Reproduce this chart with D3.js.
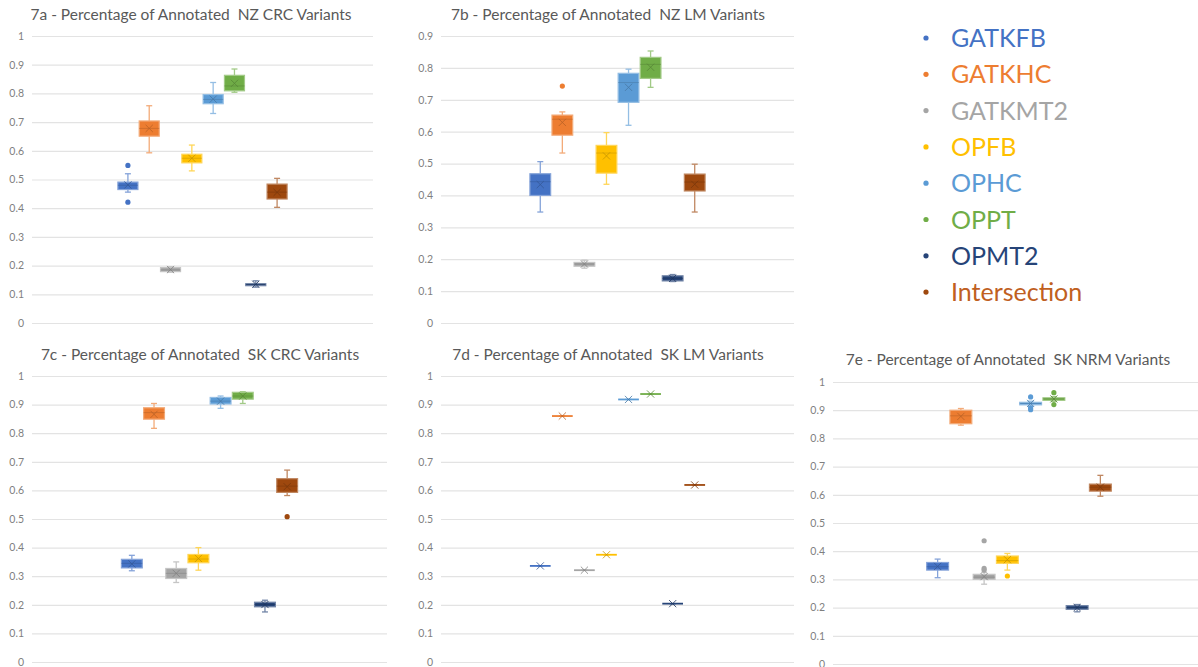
<!DOCTYPE html>
<html>
<head>
<meta charset="utf-8">
<script src="https://cdn.jsdelivr.net/npm/d3@7/dist/d3.min.js"></script>
<style>
  html, body { margin: 0; padding: 0; background: #ffffff; }
  svg { display: block; }
  text { font-family: Lato, "Open Sans", sans-serif; }
</style>
</head>
<body>
<svg id="fig" width="1198" height="667"></svg>
<script>
// Series shown in every panel, in plotting order
const seriesNames = ["GATKFB", "GATKHC", "GATKMT2", "OPFB", "OPHC", "OPPT", "OPMT2", "Intersection"];
const seriesColors = ["#4472C4", "#ED7D31", "#A5A5A5", "#FFC000", "#5B9BD5", "#70AD47", "#264478", "#9E480E"];
const legendTextColors = ["#4472C4", "#ED7D31", "#A5A5A5", "#FFC000", "#5B9BD5", "#70AD47", "#264478", "#C0601F"];

// Box statistics per series: [whisker low, Q1, median, Q3, whisker high, mean]
const nzCRC = [
  [0.456, 0.465, 0.480, 0.491, 0.520, 0.481],
  [0.593, 0.651, 0.678, 0.704, 0.757, 0.678],
  [0.177, 0.179, 0.185, 0.193, 0.196, 0.186],
  [0.530, 0.558, 0.574, 0.588, 0.620, 0.574],
  [0.730, 0.764, 0.779, 0.796, 0.838, 0.780],
  [0.804, 0.809, 0.826, 0.863, 0.885, 0.835],
  [0.125, 0.130, 0.134, 0.137, 0.147, 0.135],
  [0.403, 0.432, 0.456, 0.484, 0.504, 0.455]
];
const nzCRCOutliers = [[0.549, 0.421], [], [], [], [], [], [], []];

const nzLM = [
  [0.348, 0.400, 0.443, 0.468, 0.506, 0.434],
  [0.533, 0.589, 0.639, 0.652, 0.662, 0.629],
  [0.172, 0.178, 0.185, 0.190, 0.197, 0.185],
  [0.435, 0.470, 0.533, 0.557, 0.597, 0.524],
  [0.620, 0.692, 0.754, 0.783, 0.796, 0.739],
  [0.739, 0.767, 0.811, 0.833, 0.853, 0.802],
  [0.130, 0.132, 0.140, 0.148, 0.152, 0.140],
  [0.348, 0.414, 0.442, 0.467, 0.498, 0.435]
];
const nzLMOutliers = [[], [0.743], [], [], [], [], [], []];

const skCRC = [
  [0.319, 0.329, 0.345, 0.359, 0.373, 0.343],
  [0.817, 0.849, 0.872, 0.889, 0.904, 0.866],
  [0.278, 0.292, 0.310, 0.327, 0.350, 0.310],
  [0.321, 0.347, 0.360, 0.376, 0.400, 0.362],
  [0.887, 0.902, 0.912, 0.925, 0.930, 0.912],
  [0.904, 0.919, 0.930, 0.943, 0.945, 0.930],
  [0.175, 0.193, 0.201, 0.209, 0.216, 0.201],
  [0.582, 0.593, 0.615, 0.641, 0.671, 0.613]
];
const skCRCOutliers = [[], [], [], [], [], [], [], [0.508]];

// SK LM has a single value per series
const skLM = [0.336, 0.860, 0.321, 0.375, 0.918, 0.937, 0.204, 0.619];

const skNRM = [
  [0.306, 0.333, 0.345, 0.360, 0.372, 0.346],
  [0.847, 0.852, 0.880, 0.900, 0.906, 0.878],
  [0.283, 0.300, 0.308, 0.318, 0.325, 0.310],
  [0.333, 0.357, 0.367, 0.383, 0.392, 0.370],
  [0.914, 0.919, 0.924, 0.928, 0.932, 0.924],
  [0.931, 0.935, 0.940, 0.944, 0.948, 0.940],
  [0.185, 0.194, 0.200, 0.207, 0.211, 0.200],
  [0.595, 0.613, 0.627, 0.638, 0.669, 0.627]
];
const skNRMOutliers = [[], [], [0.437, 0.339, 0.333], [0.312], [0.947, 0.908, 0.902], [0.962, 0.920], [], []];

const ticksTo1 = [0, 0.1, 0.2, 0.3, 0.4, 0.5, 0.6, 0.7, 0.8, 0.9, 1];
const ticksTo09 = [0, 0.1, 0.2, 0.3, 0.4, 0.5, 0.6, 0.7, 0.8, 0.9];

const panelTitles = [
  "7a - Percentage of Annotated\u00A0 NZ CRC Variants",
  "7b - Percentage of Annotated\u00A0 NZ LM Variants",
  "7c - Percentage of Annotated\u00A0 SK CRC Variants",
  "7d - Percentage of Annotated\u00A0 SK LM Variants",
  "7e - Percentage of Annotated\u00A0 SK NRM Variants"
];

const skLMStats = skLM.map(v => [v, v, v, v, v, v]);

// Panel layout (pixel frame of each plot area)
const panels = [
  { title: panelTitles[0], stats: nzCRC, outliers: nzCRCOutliers, ticks: ticksTo1, max: 1,
    left: 32, right: 373, top: 36, bottom: 323, titleX: 191, titleY: 20 },
  { title: panelTitles[1], stats: nzLM, outliers: nzLMOutliers, ticks: ticksTo09, max: 0.9,
    left: 441, right: 794, top: 36, bottom: 323, titleX: 608, titleY: 20 },
  { title: panelTitles[2], stats: skCRC, outliers: skCRCOutliers, ticks: ticksTo1, max: 1,
    left: 32, right: 387, top: 376, bottom: 662, titleX: 200, titleY: 360 },
  { title: panelTitles[3], stats: skLMStats, outliers: seriesNames.map(() => []), ticks: ticksTo1, max: 1,
    left: 441, right: 794, top: 376, bottom: 662, titleX: 608, titleY: 360 },
  { title: panelTitles[4], stats: skNRM, outliers: skNRMOutliers, ticks: ticksTo1, max: 1,
    left: 833, right: 1205, top: 382, bottom: 664, titleX: 1008, titleY: 365 }
];

const svg = d3.select("#fig");

function tint(c, k) {
  const a = d3.rgb(c), w = d3.rgb("#ffffff");
  return d3.rgb(a.r + (w.r - a.r) * k, a.g + (w.g - a.g) * k, a.b + (w.b - a.b) * k).formatHex();
}

panels.forEach(p => {
  const g = svg.append("g");
  const y = d3.scaleLinear().domain([0, p.max]).range([p.bottom, p.top]);
  const w = p.right - p.left;
  const x = d3.scaleBand().domain(seriesNames)
    .range([p.left + w / 4, p.right - w / 4]).paddingInner(0.06).paddingOuter(0.03);
  const bw = x.bandwidth();

  // Title
  g.append("text")
    .attr("x", p.titleX).attr("y", p.titleY)
    .attr("text-anchor", "middle")
    .attr("font-size", 15.5).attr("fill", "#595959")
    .text(p.title);

  // Gridlines and value labels through a left axis
  const axis = d3.axisLeft(y).tickValues(p.ticks)
    .tickSize(-w).tickPadding(8)
    .tickFormat(d => d3.format("")(+d.toFixed(1)));
  const ag = g.append("g").attr("transform", `translate(${p.left},0)`).call(axis);
  ag.select(".domain").remove();
  ag.selectAll(".tick line").attr("stroke", "#E3E3E3").attr("stroke-width", 1.2);
  ag.selectAll(".tick text").attr("fill", "#7F7F7F").attr("font-size", 10.5)
    .attr("font-family", "Lato, sans-serif");

  // Boxes
  p.stats.forEach((s, i) => {
    const [lo, q1, med, q3, hi, mean] = s;
    const col = seriesColors[i];
    const light = tint(col, 0.35);
    const dark = d3.color(col).darker(0.7).formatHex();
    const cx = x(seriesNames[i]) + bw / 2;
    const bg = g.append("g");
    const cap = 6;
    // whiskers
    bg.append("line").attr("x1", cx).attr("x2", cx).attr("y1", y(hi)).attr("y2", y(q3))
      .attr("stroke", light).attr("stroke-width", 1.3);
    bg.append("line").attr("x1", cx).attr("x2", cx).attr("y1", y(q1)).attr("y2", y(lo))
      .attr("stroke", light).attr("stroke-width", 1.3);
    bg.append("line").attr("x1", cx - cap / 2).attr("x2", cx + cap / 2).attr("y1", y(hi)).attr("y2", y(hi))
      .attr("stroke", light).attr("stroke-width", 1.3);
    bg.append("line").attr("x1", cx - cap / 2).attr("x2", cx + cap / 2).attr("y1", y(lo)).attr("y2", y(lo))
      .attr("stroke", light).attr("stroke-width", 1.3);
    // box
    const h = Math.max(y(q1) - y(q3), 0);
    if (h > 0) {
      bg.append("rect").attr("x", cx - bw / 2).attr("y", y(q3)).attr("width", bw).attr("height", h)
        .attr("fill", col).attr("stroke", light).attr("stroke-width", 1.2);
    }
    // median line
    bg.append("line").attr("x1", cx - bw / 2).attr("x2", cx + bw / 2).attr("y1", y(med)).attr("y2", y(med))
      .attr("stroke", h > 0 ? dark : col).attr("stroke-width", h > 0 ? 0.9 : 1.8).attr("stroke-opacity", h > 0 ? 0.6 : 1);
    // mean marker
    const m = 3.6;
    const my = y(mean);
    bg.append("path")
      .attr("d", `M${cx - m},${my - m}L${cx + m},${my + m}M${cx - m},${my + m}L${cx + m},${my - m}`)
      .attr("stroke", dark).attr("stroke-width", 1).attr("fill", "none").attr("stroke-opacity", 0.8);
    // outliers
    p.outliers[i].forEach(v => {
      bg.append("circle").attr("cx", cx).attr("cy", y(v)).attr("r", 2.6).attr("fill", col);
    });
  });
});

// Legend
const legend = svg.append("g");
seriesNames.forEach((name, i) => {
  const cy = 38 + i * 36.3;
  legend.append("circle").attr("cx", 926).attr("cy", cy).attr("r", 2.6).attr("fill", seriesColors[i]);
  legend.append("text").attr("x", 951).attr("y", cy + 9)
    .attr("font-size", 25).attr("fill", legendTextColors[i])
    .text(name);
});
</script>
</body>
</html>
